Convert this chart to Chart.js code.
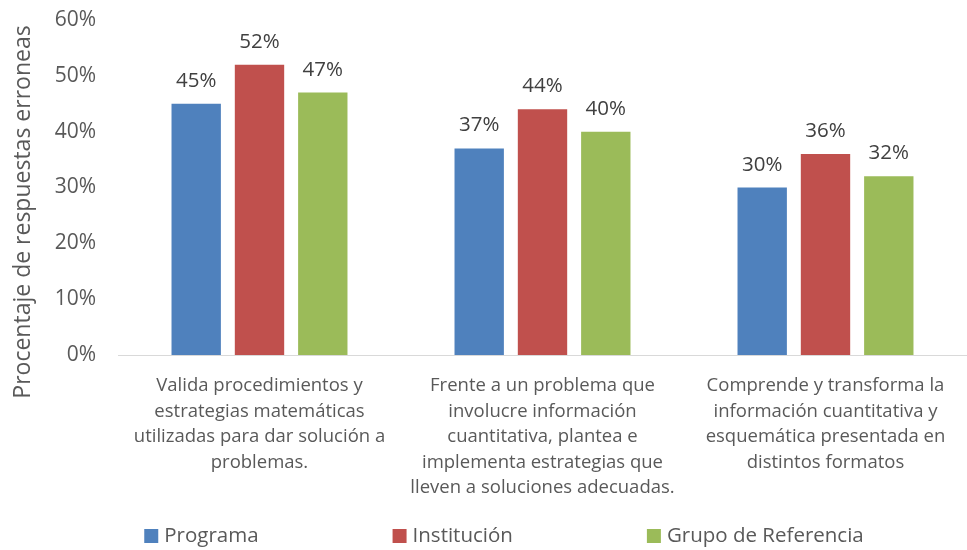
<!DOCTYPE html>
<html>
<head>
<meta charset="utf-8">
<script src="https://cdn.jsdelivr.net/npm/chart.js@4/dist/chart.umd.min.js"></script>
<style>
  html, body { margin: 0; padding: 0; background: #fff; }
  #wrap { width: 967px; height: 550px; }
</style>
</head>
<body>
<div id="wrap"><canvas id="chart"></canvas></div>
<script>
// --- data ---
const categories = [
    ['Valida procedimientos y', 'estrategias matemáticas', 'utilizadas para dar solución a', 'problemas.'],
    ['Frente a un problema que', 'involucre información', 'cuantitativa, plantea e', 'implementa estrategias que', 'lleven a soluciones adecuadas.'],
    ['Comprende y transforma la', 'información cuantitativa y', 'esquemática presentada en', 'distintos formatos']
];
const seriesNames = ['Programa', 'Institución', 'Grupo de Referencia'];
const programa = [45, 37, 30];
const institucion = [52, 44, 36];
const grupoReferencia = [47, 40, 32];
const yTicks = [0, 10, 20, 30, 40, 50, 60];
const yTitle = 'Procentaje de respuestas erroneas';

const colors = ['#4F81BD', '#C0504D', '#9BBB59'];
const FONT = "'Open Sans', 'Noto Sans', sans-serif";

// value labels above each bar
const barLabels = {
    id: 'barLabels',
    afterDatasetsDraw(chart) {
        const ctx = chart.ctx;
        ctx.save();
        ctx.font = '20.5px ' + FONT;
        ctx.fillStyle = '#404040';
        ctx.textAlign = 'center';
        ctx.textBaseline = 'alphabetic';
        chart.data.datasets.forEach((ds, i) => {
            chart.getDatasetMeta(i).data.forEach((bar, j) => {
                ctx.fillText(ds.data[j] + '%', bar.x, bar.y - 17);
            });
        });
        ctx.restore();
    }
};

// y title, sits a bit lower than the plot centre like the original
const yTitlePlugin = {
    id: 'yTitlePlugin',
    afterDraw(chart) {
        const ctx = chart.ctx;
        ctx.save();
        ctx.translate(23, 212);
        ctx.rotate(-Math.PI / 2);
        ctx.font = '23px ' + FONT;
        ctx.fillStyle = '#595959';
        ctx.textAlign = 'center';
        ctx.textBaseline = 'middle';
        ctx.fillText(yTitle, 0, 0);
        ctx.restore();
    }
};

// legend drawn at the bottom, spaced like the original
const bottomLegend = {
    id: 'bottomLegend',
    afterDraw(chart) {
        const ctx = chart.ctx;
        ctx.save();
        ctx.font = '20.5px ' + FONT;
        ctx.textBaseline = 'middle';
        const box = 14, gapText = 6, gapItem = 134, y = 536;
        const widths = seriesNames.map(n => box + gapText + ctx.measureText(n).width);
        const total = widths.reduce((a, b) => a + b, 0) + gapItem * (widths.length - 1);
        let x = 504 - total / 2;
        seriesNames.forEach((n, i) => {
            ctx.fillStyle = colors[i];
            ctx.fillRect(x, y - box / 2, box, box);
            ctx.fillStyle = '#595959';
            ctx.fillText(n, x + box + gapText, y);
            x += widths[i] + gapItem;
        });
        ctx.restore();
    }
};

const ctx = document.getElementById('chart').getContext('2d');
new Chart(ctx, {
    type: 'bar',
    data: {
        labels: categories,
        datasets: [
            { label: seriesNames[0], data: programa, backgroundColor: colors[0] },
            { label: seriesNames[1], data: institucion, backgroundColor: colors[1] },
            { label: seriesNames[2], data: grupoReferencia, backgroundColor: colors[2] }
        ]
    },
    options: {
        responsive: true,
        maintainAspectRatio: false,
        animation: false,
        layout: { padding: { top: 20, right: -10, bottom: 0, left: 0 } },
        datasets: { bar: { categoryPercentage: 0.671, barPercentage: 0.78 } },
        plugins: {
            legend: { display: false },
            tooltip: { enabled: false }
        },
        scales: {
            x: {
                grid: { display: false },
                border: { display: true, color: '#D9D9D9', width: 1 },
                ticks: {
                    color: '#595959',
                    font: { family: FONT, size: 18.5, lineHeight: 1.38 },
                    padding: 10,
                    maxRotation: 0,
                    autoSkip: false
                },
                afterFit: (s) => { s.height = 195; }
            },
            y: {
                min: 0,
                max: 60,
                grid: { display: false },
                border: { display: false },
                afterBuildTicks: (s) => { s.ticks = yTicks.map(v => ({ value: v })); },
                ticks: {
                    color: '#595959',
                    font: { family: FONT, size: 21, lineHeight: 0.8 },
                    padding: 14,
                    callback: (val) => val + '%'
                },
                afterFit: (s) => { s.width = 118; s.paddingTop = 0; s.paddingBottom = 0; }
            }
        }
    },
    plugins: [barLabels, yTitlePlugin, bottomLegend]
});
</script>
</body>
</html>
